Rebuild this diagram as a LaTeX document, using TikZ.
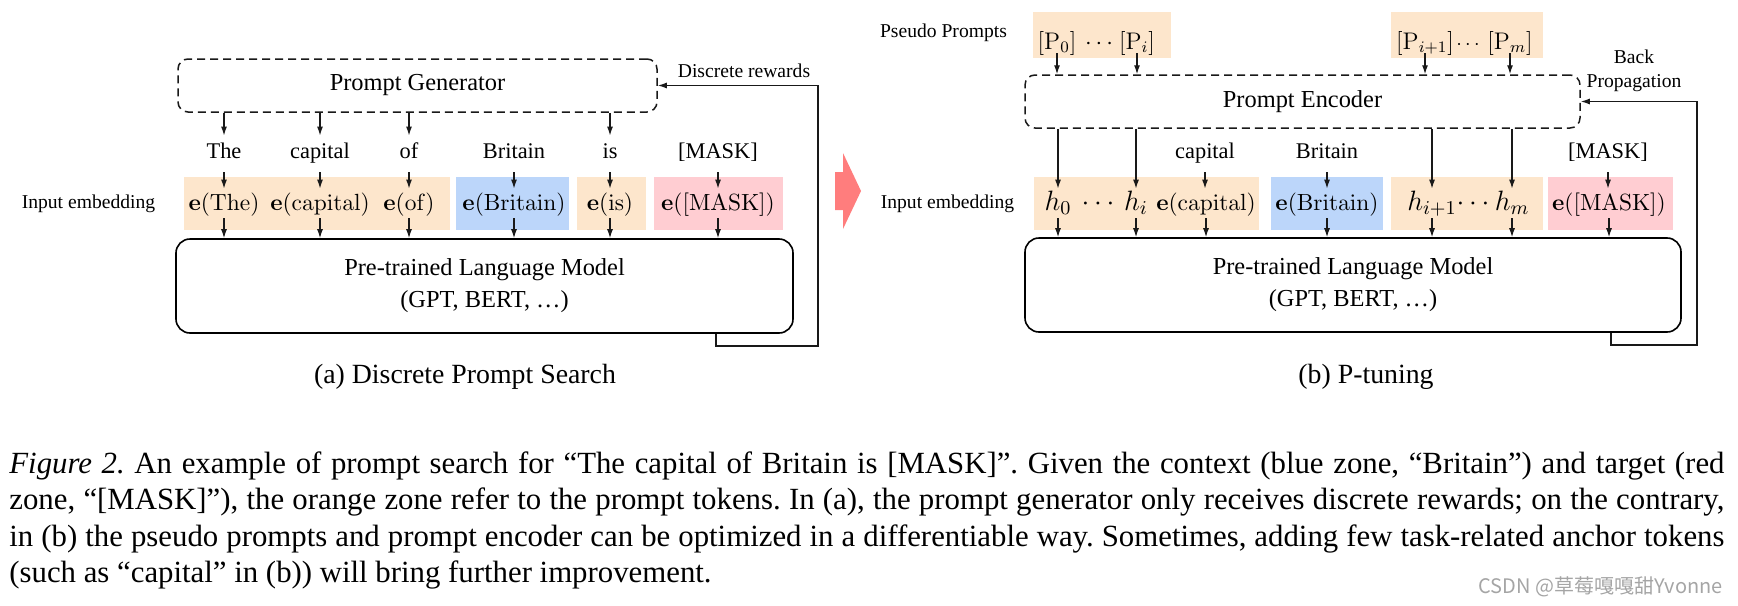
\RequirePackage{fix-cm}
\documentclass[tikz,border=0pt]{standalone}
\usepackage[no-math]{fontspec}
\setmainfont{Liberation Serif}
\newfontfamily\cjkfont{Noto Sans CJK SC}
\usetikzlibrary{arrows.meta}
\definecolor{orz}{RGB}{253,230,204}
\definecolor{blz}{RGB}{188,214,250}
\definecolor{rdz}{RGB}{255,205,210}
\definecolor{pinkar}{RGB}{255,125,125}
\definecolor{wmark}{RGB}{165,165,165}
\definecolor{linec}{RGB}{25,25,25}
\frenchspacing
\tikzset{
 arr/.style={draw=linec, line width=0.6pt, -{Latex[length=4.5pt,width=3pt]}},
 zone/.style={inner sep=0pt, minimum height=26.5pt},
 dashbox/.style={draw=linec, dash pattern=on 4pt off 2.5pt, line width=0.75pt, rounded corners=5pt, minimum height=26.5pt, inner sep=0pt, font=\fontsize{12.2}{15}\selectfont},
 plmbox/.style={draw=black, line width=0.8pt, rounded corners=7pt, minimum height=47pt, inner sep=0pt, align=center, font=\fontsize{12.2}{16}\selectfont},
 word/.style={inner sep=0pt, text height=11pt, text depth=7pt, anchor=base, font=\fontsize{11.2}{13}\selectfont},
 emb/.style={inner sep=0pt, text height=10.5pt, text depth=4pt, anchor=base, font=\fontsize{11.7}{14}\selectfont},
 hemb/.style={emb, font=\fontsize{14}{16}\selectfont},
 pp/.style={inner sep=0pt, text height=10pt, text depth=2pt, anchor=base, font=\fontsize{12}{14}\selectfont},
 small/.style={inner sep=0pt, font=\fontsize{9.8}{12}\selectfont},
 subcap/.style={inner sep=0pt, anchor=base, font=\fontsize{13.9}{16}\selectfont},
 capl/.style={inner sep=0pt, anchor=base west, font=\fontsize{15.4}{18}\selectfont},
}
\begin{document}
\begin{tikzpicture}[x=0.5pt,y=-0.5pt]
\useasboundingbox (0,0) rectangle (1738,605);

% ---------------- (a) ----------------
\node[dashbox, minimum width=239.5pt] (pg) at (417.5,85.5) {Prompt Generator};
\node[small] (dr) at (744,71) {Discrete rewards};
\node[small] (iea) at (88.5,204) {Input embedding};

\node[zone, fill=orz, minimum width=133pt] (za1) at (317,203.5) {};
\node[zone, fill=blz, minimum width=56.5pt] (za2) at (512.5,203.5) {};
\node[zone, fill=orz, minimum width=34.5pt] (za3) at (611.5,203.5) {};
\node[zone, fill=rdz, minimum width=64.5pt] (za4) at (718.5,203.5) {};

\node[word] (wa1) at (224,158) {The};
\node[word] (wa2) at (320,158) {capital};
\node[word] (wa3) at (409,158) {of};
\node[word] (wa4) at (514,158) {Britain};
\node[word] (wa5) at (610,158) {is};
\node[word] (wa6) at (718,158) {[MASK]};

\node[emb] (ea1) at (224,210) {$\mathbf{e}(\mathrm{The})$};
\node[emb] (ea2) at (320,210) {$\mathbf{e}(\mathrm{capital})$};
\node[emb] (ea3) at (409,210) {$\mathbf{e}(\mathrm{of})$};
\node[emb] (ea4) at (514,210) {$\mathbf{e}(\mathrm{Britain})$};
\node[emb] (ea5) at (610,210) {$\mathbf{e}(\mathrm{is})$};
\node[emb] (ea6) at (718,210) {$\mathbf{e}([\mathrm{MASK}])$};

\node[plmbox, minimum width=308.5pt] (plma) at (484.5,286) {Pre-trained Language Model\\(GPT, BERT, …)};

\foreach \w in {wa1,wa2,wa3,wa5} \draw[arr] (pg.south -| \w) -- (\w.north);
\foreach \i in {1,...,6} {
  \draw[arr] (wa\i.south) -- (ea\i.north);
  \draw[arr] (ea\i.south) -- (ea\i |- plma.north);
}
\coordinate (la1) at (716,346);
\coordinate (la2) at (818,346);
\draw[arr] (plma.south -| la1) -- (la1) -- (la2) -- (la2 |- pg.east) -- (pg.east);

\node[subcap] (capa) at (465,383) {(a) Discrete Prompt Search};

% ---------------- middle arrow ----------------
\fill[pinkar] (835,172) -- (843,172) -- (843,153) -- (861,191) -- (843,229) -- (843,210) -- (835,210) -- cycle;

% ---------------- (b) ----------------
\node[small] (psp) at (943.5,33) {Pseudo Prompts};
\node[small] (ieb) at (947.5,204) {Input embedding};
\node[zone, fill=orz, minimum width=69pt, minimum height=23pt] (ppz1) at (1102,35) {};
\node[zone, fill=orz, minimum width=76pt, minimum height=23pt] (ppz2) at (1467,35) {};
\node[pp] (p0) at (1057,49) {$[\mathrm{P}_0]$};
\node[pp] (pd1) at (1099,49) {$\cdots$};
\node[pp] (pi) at (1137,49) {$[\mathrm{P}_i]$};
\node[pp] (pi1) at (1425,49) {$[\mathrm{P}_{i+1}]$};
\node[pp, font=\fontsize{10}{12}\selectfont] (pd2) at (1468,49) {$\cdots$};
\node[pp] (pm) at (1510,49) {$[\mathrm{P}_m]$};

\node[dashbox, minimum width=277.5pt] (pe) at (1302.5,101.5) {Prompt Encoder};
\node[small, align=center] (bp) at (1634,71) {Back\\Propagation};

\foreach \p in {p0,pi,pi1,pm} \draw[arr] (\p.south) -- (\p |- pe.north);

\node[zone, fill=orz, minimum width=112.5pt] (zb1) at (1146.5,203.5) {};
\node[zone, fill=blz, minimum width=56pt] (zb2) at (1327,203.5) {};
\node[zone, fill=orz, minimum width=76pt] (zb3) at (1467,203.5) {};
\node[zone, fill=rdz, minimum width=62.5pt] (zb4) at (1610.5,203.5) {};

\node[word] (wbc) at (1205,158) {capital};
\node[word] (wbb) at (1327,158) {Britain};
\node[word] (wbm) at (1608,158) {[MASK]};

\node[hemb] (hb0) at (1058,210) {$h_0$};
\node[hemb] (hbd1) at (1098,210) {$\cdots$};
\node[hemb] (hbi) at (1136,210) {$h_i$};
\node[emb] (ebc) at (1206,210) {$\mathbf{e}(\mathrm{capital})$};
\node[emb] (ebb) at (1327,210) {$\mathbf{e}(\mathrm{Britain})$};
\node[hemb] (hbi1) at (1432,210) {$h_{i+1}$};
\node[hemb] (hbd2) at (1473,210) {$\cdots$};
\node[hemb] (hbm) at (1512,210) {$h_m$};
\node[emb] (ebm) at (1609,210) {$\mathbf{e}([\mathrm{MASK}])$};

\node[plmbox, minimum width=328pt] (plmb) at (1353,285) {Pre-trained Language Model\\(GPT, BERT, …)};

\foreach \h in {hb0,hbi,hbi1,hbm} \draw[arr] (pe.south -| \h) -- (\h.north);
\draw[arr] (wbc.south) -- (wbc |- ebc.north);
\draw[arr] (wbb.south) -- (ebb.north);
\draw[arr] (wbm.south) -- (wbm |- ebm.north);
\foreach \h in {hb0,hbi,ebc,ebb,hbi1,hbm,ebm} \draw[arr] (\h.south) -- (\h |- plmb.north);

\coordinate (lb1) at (1611,345);
\coordinate (lb2) at (1697,345);
\draw[arr] (plmb.south -| lb1) -- (lb1) -- (lb2) -- (lb2 |- pe.east) -- (pe.east);

\node[subcap] (capb) at (1366,383) {(b) P-tuning};

% ---------------- caption ----------------
\node[capl] (cap1) at (9,473) {\makebox[857.5pt][s]{\textit{Figure 2.} An example of prompt search for “The capital of Britain is [MASK]”. Given the context (blue zone, “Britain”) and target (red}};
\node[capl] (cap2) at (9,509.5) {\makebox[857.5pt][s]{zone, “[MASK]”), the orange zone refer to the prompt tokens. In (a), the prompt generator only receives discrete rewards; on the contrary,}};
\node[capl] (cap3) at (9,546) {\makebox[857.5pt][s]{in (b) the pseudo prompts and prompt encoder can be optimized in a differentiable way. Sometimes, adding few task-related anchor tokens}};
\node[capl] (cap4) at (9,582) {(such as “capital” in (b)) will bring further improvement.};

\node[inner sep=0pt, anchor=base east, text=wmark, font=\cjkfont\fontsize{10}{12}\selectfont] (wm) at (1723,593) {CSDN @草莓嘎嘎甜Yvonne};
\end{tikzpicture}
\end{document}
